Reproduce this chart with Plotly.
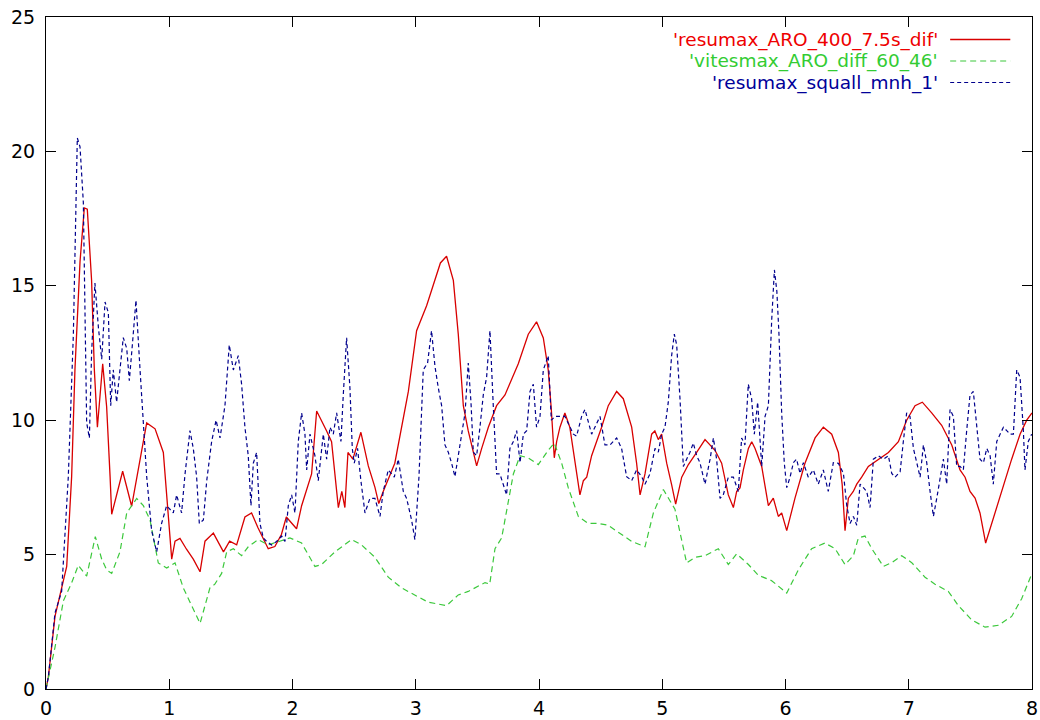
import plotly.graph_objects as go

# --- series values: (time, value) ---------------------------------------
series_names = ["'resumax_ARO_400_7.5s_dif'",
                "'vitesmax_ARO_diff_60_46'",
                "'resumax_squall_mnh_1'"]

resumax_aro = [
    (0, 0), (0.019, 0.44), (0.073, 2.7), (0.114, 3.5), (0.168, 4.56),
    (0.208, 7.9), (0.235, 11.9), (0.276, 15.9), (0.311, 17.9), (0.335, 17.85),
    (0.37, 15.2), (0.392, 11.9), (0.417, 9.74), (0.46, 12.1), (0.492, 10.5),
    (0.52, 7.9), (0.533, 6.5), (0.622, 8.1), (0.695, 6.8), (0.817, 9.9),
    (0.885, 9.68), (0.952, 8.8), (0.993, 6.55), (1.02, 4.83), (1.047, 5.5),
    (1.087, 5.6), (1.14, 5.2), (1.195, 4.83), (1.25, 4.36), (1.29, 5.5),
    (1.358, 5.8), (1.44, 5.1), (1.49, 5.5), (1.547, 5.36), (1.614, 6.4),
    (1.668, 6.55), (1.72, 6.0), (1.75, 5.7), (1.803, 5.22), (1.857, 5.3),
    (1.91, 5.75), (1.95, 6.4), (1.993, 6.15), (2.033, 5.96), (2.074, 6.82),
    (2.155, 8.0), (2.196, 10.34), (2.236, 10.0), (2.277, 9.6), (2.317, 9.2),
    (2.344, 8.0), (2.372, 6.75), (2.4, 7.35), (2.425, 6.75), (2.45, 8.8),
    (2.49, 8.55), (2.555, 9.55), (2.615, 8.3), (2.669, 7.5), (2.7, 6.9),
    (2.736, 7.35), (2.83, 8.4), (2.94, 11.07), (3.007, 13.33), (3.088, 14.26),
    (3.2, 15.85), (3.25, 16.1), (3.305, 15.2), (3.345, 13.2), (3.386, 10.54),
    (3.426, 9.6), (3.494, 8.3), (3.535, 8.95), (3.589, 9.74), (3.656, 10.54),
    (3.724, 10.94), (3.832, 12.1), (3.913, 13.2), (3.98, 13.66), (4.035, 13.06),
    (4.075, 11.87), (4.1, 10.4), (4.124, 8.6), (4.143, 9.2), (4.17, 9.74),
    (4.21, 10.27), (4.25, 9.74), (4.292, 8.4), (4.332, 7.22), (4.36, 7.75),
    (4.387, 7.88), (4.427, 8.68), (4.508, 9.74), (4.562, 10.54), (4.63, 11.07),
    (4.684, 10.8), (4.752, 9.74), (4.792, 8.4), (4.82, 7.22), (4.86, 8.0),
    (4.914, 9.48), (4.94, 9.6), (4.968, 9.28), (4.995, 9.48), (5.036, 8.4),
    (5.076, 7.6), (5.109, 6.88), (5.158, 7.88), (5.212, 8.35), (5.279, 8.8),
    (5.347, 9.28), (5.428, 8.88), (5.482, 8.4), (5.536, 7.22), (5.577, 6.75),
    (5.604, 7.35), (5.631, 7.48), (5.658, 8.15), (5.699, 8.95), (5.726, 9.2),
    (5.753, 8.95), (5.807, 8.28), (5.861, 6.82), (5.901, 7.1), (5.942, 6.42),
    (5.969, 6.55), (6.01, 5.89), (6.077, 7.1), (6.158, 8.4), (6.24, 9.34),
    (6.307, 9.74), (6.375, 9.48), (6.429, 8.8), (6.46, 7.6), (6.483, 5.89),
    (6.51, 7.1), (6.55, 7.35), (6.578, 7.62), (6.618, 7.88), (6.672, 8.28),
    (6.754, 8.55), (6.835, 8.8), (6.916, 9.2), (6.983, 10.0), (7.051, 10.54),
    (7.11, 10.67), (7.186, 10.27), (7.267, 9.81), (7.349, 9.08), (7.416, 8.15),
    (7.457, 7.88), (7.497, 7.35), (7.538, 7.1), (7.578, 6.55), (7.624, 5.43),
    (7.673, 6.16), (7.754, 7.35), (7.835, 8.55), (7.903, 9.48), (7.957, 10.0),
    (8.0, 10.27),
]

vitesmax_aro = [
    (0, 0), (0.073, 1.55), (0.141, 3.28), (0.208, 3.95), (0.262, 4.6),
    (0.33, 4.2), (0.4, 5.67), (0.452, 4.83), (0.492, 4.43), (0.533, 4.3),
    (0.6, 5.1), (0.655, 6.55), (0.736, 7.09), (0.79, 6.82), (0.844, 6.29),
    (0.911, 4.69), (0.979, 4.5), (1.047, 4.69), (1.114, 3.76), (1.195, 2.97),
    (1.25, 2.44), (1.33, 3.76), (1.37, 3.9), (1.425, 4.3), (1.466, 5.1),
    (1.52, 5.22), (1.587, 4.96), (1.641, 5.29), (1.722, 5.56), (1.803, 5.36),
    (1.885, 5.49), (1.979, 5.62), (2.074, 5.43), (2.182, 4.56), (2.236, 4.63),
    (2.344, 5.1), (2.48, 5.56), (2.56, 5.36), (2.669, 4.9), (2.777, 4.16),
    (2.885, 3.76), (2.993, 3.5), (3.1, 3.23), (3.25, 3.1), (3.345, 3.5),
    (3.426, 3.63), (3.507, 3.83), (3.562, 3.96), (3.6, 3.9), (3.643, 5.22),
    (3.697, 5.62), (3.737, 6.69), (3.792, 8.0), (3.846, 8.68), (3.913, 8.6),
    (3.994, 8.35), (4.075, 8.88), (4.124, 9.15), (4.184, 8.4), (4.238, 7.48),
    (4.319, 6.42), (4.4, 6.16), (4.481, 6.16), (4.562, 6.09), (4.643, 5.82),
    (4.752, 5.49), (4.86, 5.29), (4.928, 6.55), (5.009, 7.42), (5.103, 6.69),
    (5.198, 4.69), (5.266, 4.9), (5.347, 4.96), (5.455, 5.22), (5.536, 4.63),
    (5.604, 5.03), (5.699, 4.63), (5.78, 4.23), (5.888, 4.03), (6.01, 3.57),
    (6.104, 4.43), (6.212, 5.22), (6.32, 5.43), (6.402, 5.22), (6.483, 4.63),
    (6.551, 4.96), (6.591, 5.62), (6.645, 5.69), (6.7, 5.22), (6.794, 4.56),
    (6.862, 4.7), (6.943, 4.96), (7.024, 4.7), (7.132, 4.16), (7.213, 3.9),
    (7.321, 3.63), (7.403, 3.1), (7.511, 2.57), (7.619, 2.3), (7.727, 2.37),
    (7.835, 2.7), (7.916, 3.36), (8.0, 4.3),
]

resumax_squall = [
    (0, 0), (0.019, 0.44), (0.073, 2.83), (0.127, 3.63), (0.181, 7.9),
    (0.222, 13.2), (0.254, 20.5), (0.276, 20.17), (0.303, 18.1), (0.33, 9.9),
    (0.352, 9.34), (0.37, 12.5), (0.397, 15.1), (0.425, 13.46), (0.452, 12.27),
    (0.479, 14.4), (0.506, 14.0), (0.525, 10.54), (0.546, 11.87), (0.573, 10.67),
    (0.6, 11.87), (0.627, 13.07), (0.655, 12.67), (0.676, 11.47), (0.703, 12.93),
    (0.73, 14.46), (0.763, 11.87), (0.79, 9.9), (0.817, 7.9), (0.857, 5.89),
    (0.898, 5.1), (0.938, 6.16), (0.979, 6.82), (1.033, 6.55), (1.06, 7.22),
    (1.1, 6.55), (1.128, 8.0), (1.168, 9.61), (1.195, 8.95), (1.222, 7.9),
    (1.244, 6.16), (1.277, 6.29), (1.304, 7.75), (1.344, 9.21), (1.38, 10.0),
    (1.412, 9.34), (1.452, 10.54), (1.487, 12.8), (1.52, 11.87), (1.56, 12.4),
    (1.587, 11.34), (1.614, 9.74), (1.641, 8.68), (1.663, 6.82), (1.682, 8.4),
    (1.709, 8.8), (1.736, 6.16), (1.763, 5.62), (1.79, 5.49), (1.83, 5.36),
    (1.871, 5.49), (1.912, 5.69), (1.939, 5.49), (1.966, 6.82), (1.993, 7.22),
    (2.02, 6.55), (2.047, 9.21), (2.074, 10.27), (2.101, 9.48), (2.115, 8.15),
    (2.142, 9.48), (2.182, 8.68), (2.209, 7.75), (2.25, 9.48), (2.277, 8.55),
    (2.304, 9.74), (2.331, 9.48), (2.358, 10.27), (2.393, 9.21), (2.412, 10.94),
    (2.439, 13.07), (2.466, 11.2), (2.485, 8.95), (2.501, 8.4), (2.528, 8.95),
    (2.555, 7.75), (2.588, 6.55), (2.628, 7.09), (2.669, 7.09), (2.71, 6.42),
    (2.736, 7.35), (2.777, 8.15), (2.826, 7.88), (2.858, 8.55), (2.899, 7.35),
    (2.926, 7.09), (2.966, 6.29), (2.993, 5.56), (3.026, 7.88), (3.061, 11.87),
    (3.096, 12.13), (3.128, 13.33), (3.156, 12.0), (3.183, 11.2), (3.21, 10.54),
    (3.237, 9.08), (3.264, 8.81), (3.291, 8.4), (3.318, 7.9), (3.345, 8.68),
    (3.372, 9.48), (3.4, 10.27), (3.426, 12.13), (3.448, 10.67), (3.467, 8.81),
    (3.494, 8.68), (3.521, 9.74), (3.548, 10.94), (3.575, 11.6), (3.602, 13.33),
    (3.629, 10.54), (3.656, 8.0), (3.683, 8.0), (3.71, 7.62), (3.737, 7.22),
    (3.764, 8.95), (3.792, 9.21), (3.819, 9.61), (3.846, 8.42), (3.873, 9.48),
    (3.9, 9.61), (3.927, 11.07), (3.954, 11.34), (3.98, 9.74), (4.008, 10.14),
    (4.035, 11.87), (4.075, 12.4), (4.1, 10.0), (4.13, 10.14), (4.17, 10.14),
    (4.21, 10.14), (4.238, 9.88), (4.279, 9.48), (4.305, 9.41), (4.346, 10.14),
    (4.373, 10.4), (4.4, 9.88), (4.427, 9.48), (4.468, 9.88), (4.495, 10.14),
    (4.535, 9.08), (4.576, 9.08), (4.63, 9.34), (4.67, 8.95), (4.711, 7.9),
    (4.752, 7.75), (4.792, 8.15), (4.833, 7.9), (4.86, 7.62), (4.9, 8.0),
    (4.941, 8.95), (4.968, 8.81), (4.995, 9.48), (5.022, 9.74), (5.049, 10.67),
    (5.076, 12.4), (5.098, 13.2), (5.117, 12.8), (5.144, 10.8), (5.171, 8.28),
    (5.198, 8.55), (5.225, 8.81), (5.252, 9.15), (5.279, 8.68), (5.306, 8.42),
    (5.347, 7.62), (5.388, 8.55), (5.415, 9.34), (5.441, 8.55), (5.469, 7.09),
    (5.495, 7.22), (5.536, 7.88), (5.577, 7.88), (5.617, 7.35), (5.644, 9.34),
    (5.671, 9.08), (5.698, 11.34), (5.725, 10.8), (5.747, 9.48), (5.774, 10.67),
    (5.807, 8.28), (5.834, 10.14), (5.861, 10.54), (5.888, 13.73), (5.91, 15.59),
    (5.93, 14.79), (5.947, 13.2), (5.969, 10.27), (5.99, 8.42), (6.01, 7.49),
    (6.037, 7.88), (6.064, 8.42), (6.09, 8.55), (6.118, 8.02), (6.145, 8.42),
    (6.185, 7.88), (6.226, 8.15), (6.266, 7.62), (6.307, 8.15), (6.347, 7.35),
    (6.388, 8.42), (6.429, 8.4), (6.47, 8.02), (6.497, 6.82), (6.524, 6.16),
    (6.551, 6.42), (6.578, 6.09), (6.605, 7.62), (6.632, 7.49), (6.659, 7.35),
    (6.686, 6.75), (6.713, 8.55), (6.754, 8.68), (6.794, 8.55), (6.835, 8.68),
    (6.862, 8.02), (6.889, 7.88), (6.93, 8.08), (6.956, 9.21), (6.983, 10.27),
    (7.01, 10.14), (7.038, 8.95), (7.065, 8.42), (7.092, 7.88), (7.119, 9.08),
    (7.146, 8.42), (7.173, 7.35), (7.2, 6.42), (7.227, 7.09), (7.254, 7.88),
    (7.281, 8.55), (7.308, 7.62), (7.335, 10.4), (7.362, 10.14), (7.389, 8.28),
    (7.416, 8.28), (7.443, 8.15), (7.47, 9.61), (7.497, 10.94), (7.524, 11.07),
    (7.551, 9.88), (7.578, 8.55), (7.606, 8.42), (7.633, 8.95), (7.66, 8.68),
    (7.686, 7.62), (7.714, 9.21), (7.741, 9.48), (7.768, 9.74), (7.795, 9.61),
    (7.822, 9.48), (7.849, 9.48), (7.876, 11.87), (7.903, 11.6), (7.93, 9.61),
    (7.943, 8.15), (7.97, 9.21), (7.997, 9.48),
]

x_ticks = [0, 1, 2, 3, 4, 5, 6, 7, 8]
y_ticks = [0, 5, 10, 15, 20, 25]

# --- styles ---------------------------------------------------------------
line_colors = ["#d80000", "#3cc83c", "#00008c"]
text_colors = ["#ee0000", "#33cc33", "#000099"]
dashes = ["solid", "6px,4px", "4px,3px"]
widths = [1.3, 1.2, 1.2]
FONT = "DejaVu Sans, Verdana, sans-serif"

fig = go.Figure()
for name, pts, col, dash, w in zip(series_names,
                                   [resumax_aro, vitesmax_aro, resumax_squall],
                                   line_colors, dashes, widths):
    xs = [p[0] for p in pts]
    ys = [p[1] for p in pts]
    fig.add_trace(go.Scatter(x=xs, y=ys, mode="lines", name=name,
                             line=dict(color=col, width=w, dash=dash)))

# key in the top-right corner: label right-aligned, line sample to its right
key_rows = [0.9665, 0.9345, 0.9025]
for name, col_t, col_l, dash, w, yk in zip(series_names, text_colors, line_colors,
                                           dashes, widths, key_rows):
    fig.add_annotation(x=0.906, y=yk, xref="paper", yref="paper", text=name,
                       showarrow=False, xanchor="right", yanchor="middle",
                       borderpad=0,
                       font=dict(family=FONT, size=18.5, color=col_t))
    fig.add_shape(type="line", xref="paper", yref="paper",
                  x0=0.917, x1=0.978, y0=yk, y1=yk,
                  line=dict(color=col_l, width=w, dash=dash))

axis_common = dict(showgrid=False, zeroline=False, showline=True, mirror="ticks",
                   linecolor="black", linewidth=1, ticks="inside", ticklen=10,
                   tickcolor="black", tickwidth=1, automargin=False,
                   tickfont=dict(family=FONT, size=19, color="black"))

fig.update_xaxes(range=[0, 8], tickvals=x_ticks, ticktext=[str(v) for v in x_ticks],
                 ticklabelstandoff=2, **axis_common)
fig.update_yaxes(range=[0, 25], tickvals=y_ticks, ticktext=[str(v) for v in y_ticks],
                 ticklabelstandoff=6, **axis_common)

fig.update_layout(width=1040, height=720, showlegend=False,
                  margin=dict(l=46, r=8, t=17, b=31),
                  paper_bgcolor="white", plot_bgcolor="white")

fig.write_html("out.html")
